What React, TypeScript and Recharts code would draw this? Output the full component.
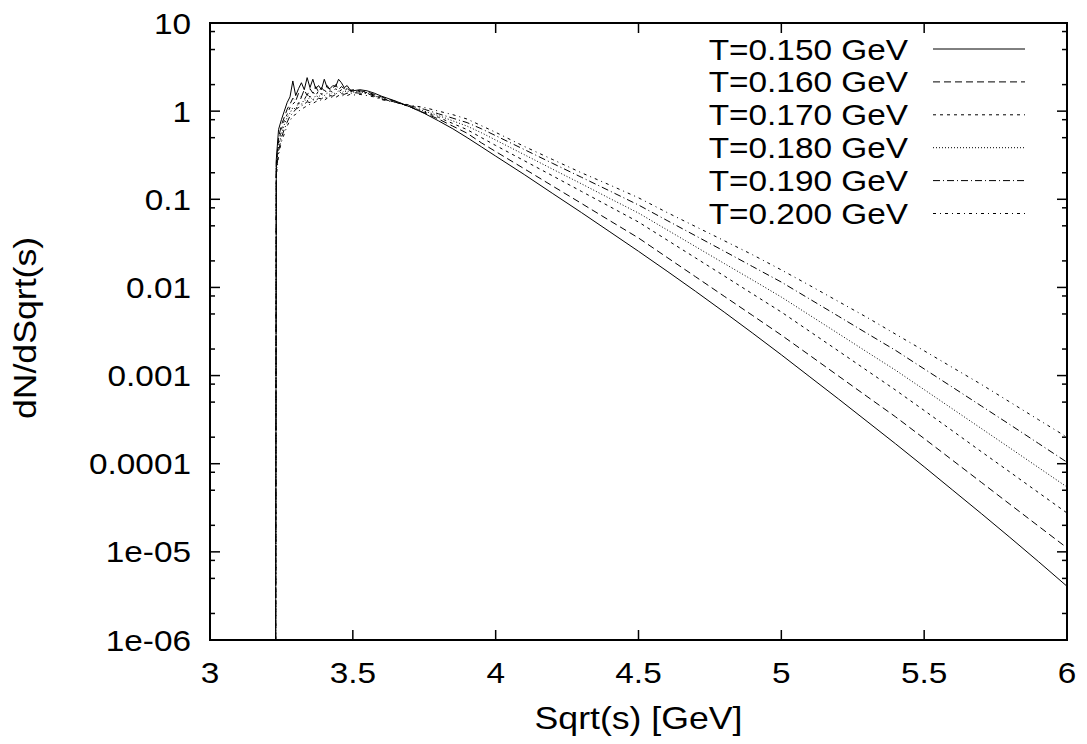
import React from "react";
import { LineChart, Line, XAxis, YAxis, Legend } from "recharts";

// sqrt(s) grid [GeV]
const sqrtS = [
  3.23, 3.232,
  3.24, 3.25, 3.26, 3.27, 3.28, 3.29, 3.3, 3.31, 3.32, 3.33, 3.34, 3.35, 3.36, 3.37,
  3.38, 3.39, 3.4, 3.41, 3.42, 3.43, 3.44, 3.45, 3.46, 3.47, 3.48, 3.49, 3.5,
  3.525, 3.55, 3.575, 3.6,
  3.65, 3.7, 3.75, 3.8, 3.85, 3.9, 3.95,
  4.0, 4.1, 4.2, 4.3, 4.4, 4.5, 4.6, 4.7, 4.8, 4.9, 5.0,
  5.1, 5.2, 5.3, 5.4, 5.5, 5.6, 5.7, 5.8, 5.9, 6.0,
];

// dN/dSqrt(s) for each temperature
const t150 = [
  1e-6, 0.28,
  0.62, 0.8, 1.0, 1.25, 1.45, 2.2, 1.5, 1.8, 2.1, 1.75, 2.4, 1.85, 2.3, 1.8,
  1.95, 1.75, 2.3, 1.85, 1.8, 1.95, 1.9, 2.3, 2.1, 1.85, 1.95, 1.75, 1.7,
  1.75, 1.7, 1.6, 1.48,
  1.3, 1.12, 0.944, 0.776, 0.631, 0.501, 0.394,
  0.309, 0.191, 0.116, 0.0708, 0.0427, 0.0257, 0.0153, 9.02e-3, 5.25e-3, 3.02e-3, 1.72e-3,
  9.66e-4, 5.43e-4, 3.02e-4, 1.68e-4, 9.23e-5, 5.01e-5, 2.72e-5, 1.46e-5, 7.76e-6, 4.07e-6,
];
const t160 = [
  1e-6, 0.26,
  0.5, 0.7, 0.85, 1.05, 1.2, 1.4, 1.3, 1.6, 1.45, 1.75, 1.5, 1.8, 1.6, 1.9,
  1.65, 1.85, 1.7, 1.95, 1.75, 1.8, 2.0, 1.75, 1.9, 1.8, 1.85, 1.7, 1.75,
  1.7, 1.65, 1.55, 1.45,
  1.29, 1.12, 0.955, 0.813, 0.676, 0.562, 0.437,
  0.348, 0.222, 0.141, 0.0899, 0.0571, 0.0364, 0.0219, 0.0132, 7.94e-3, 4.79e-3, 2.88e-3,
  1.69e-3, 9.89e-4, 5.79e-4, 3.4e-4, 1.93e-4, 1.09e-4, 6.15e-5, 3.47e-5, 1.96e-5, 1.11e-5,
];
const t170 = [
  1e-6, 0.24,
  0.45, 0.62, 0.78, 0.92, 1.1, 1.2, 1.3, 1.2, 1.45, 1.35, 1.55, 1.45, 1.65, 1.5,
  1.7, 1.55, 1.75, 1.6, 1.7, 1.65, 1.8, 1.65, 1.75, 1.7, 1.8, 1.65, 1.7,
  1.68, 1.62, 1.52, 1.41,
  1.26, 1.12, 0.977, 0.851, 0.724, 0.617, 0.501,
  0.408, 0.274, 0.184, 0.123, 0.0824, 0.0552, 0.0345, 0.0216, 0.0135, 8.41e-3, 5.26e-3,
  3.16e-3, 1.9e-3, 1.14e-3, 6.84e-4, 4.02e-4, 2.35e-4, 1.37e-4, 8.05e-5, 4.71e-5, 2.76e-5,
];
const t180 = [
  1e-6, 0.22,
  0.4, 0.55, 0.7, 0.85, 0.95, 1.1, 1.05, 1.25, 1.2, 1.35, 1.3, 1.45, 1.35, 1.5,
  1.45, 1.55, 1.5, 1.6, 1.55, 1.65, 1.55, 1.7, 1.6, 1.7, 1.65, 1.72, 1.65,
  1.66, 1.6, 1.5, 1.38,
  1.26, 1.12, 1.0, 0.891, 0.776, 0.676, 0.569,
  0.47, 0.321, 0.219, 0.15, 0.102, 0.0698, 0.045, 0.029, 0.0187, 0.0121, 7.78e-3,
  4.82e-3, 2.99e-3, 1.85e-3, 1.15e-3, 6.93e-4, 4.17e-4, 2.51e-4, 1.51e-4, 9.06e-5, 5.44e-5,
];
const t190 = [
  1e-6, 0.2,
  0.35, 0.5, 0.62, 0.75, 0.88, 0.95, 1.05, 1.1, 1.15, 1.2, 1.28, 1.25, 1.35, 1.32,
  1.4, 1.38, 1.45, 1.42, 1.5, 1.48, 1.55, 1.5, 1.58, 1.55, 1.6, 1.58, 1.62,
  1.6, 1.58, 1.48, 1.38,
  1.26, 1.15, 1.05, 0.933, 0.832, 0.741, 0.631,
  0.527, 0.367, 0.255, 0.178, 0.124, 0.0861, 0.0575, 0.0385, 0.0258, 0.0172, 0.0115,
  7.36e-3, 4.71e-3, 3.01e-3, 1.93e-3, 1.19e-3, 7.35e-4, 4.52e-4, 2.78e-4, 1.7e-4, 1.04e-4,
];
const t200 = [
  1e-6, 0.18,
  0.32, 0.45, 0.55, 0.68, 0.78, 0.88, 0.92, 1.0, 1.05, 1.1, 1.15, 1.2, 1.22, 1.28,
  1.3, 1.35, 1.33, 1.4, 1.42, 1.45, 1.43, 1.5, 1.48, 1.52, 1.5, 1.55, 1.52,
  1.55, 1.5, 1.45, 1.35,
  1.26, 1.17, 1.1, 1.0, 0.912, 0.813, 0.684,
  0.575, 0.398, 0.282, 0.2, 0.145, 0.104, 0.0708, 0.049, 0.0339, 0.0234, 0.0158,
  0.0105, 6.92e-3, 4.57e-3, 2.95e-3, 1.91e-3, 1.23e-3, 7.94e-4, 5.01e-4, 3.16e-4, 2.0e-4,
];

const seriesNames = ["T=0.150 GeV", "T=0.160 GeV", "T=0.170 GeV", "T=0.180 GeV", "T=0.190 GeV", "T=0.200 GeV"];

const xTicks = [3, 3.5, 4, 4.5, 5, 5.5, 6];
const xTickLabels = ["3", "3.5", "4", "4.5", "5", "5.5", "6"];
const yMajor = [1e-6, 1e-5, 1e-4, 1e-3, 0.01, 0.1, 1, 10];
const yTickLabels = ["1e-06", "1e-05", "0.0001", "0.001", "0.01", "0.1", "1", "10"];
const yMinorSteps = [2, 5, 8];

const series = [
  { key: "t150", name: seriesNames[0], values: t150, dash: undefined },
  { key: "t160", name: seriesNames[1], values: t160, dash: "7 4" },
  { key: "t170", name: seriesNames[2], values: t170, dash: "3 4" },
  { key: "t180", name: seriesNames[3], values: t180, dash: "1 2" },
  { key: "t190", name: seriesNames[4], values: t190, dash: "7 3 1 3" },
  { key: "t200", name: seriesNames[5], values: t200, dash: "3 4 1 4" },
];

const rows = sqrtS.map((x, i) => {
  const row: any = { x };
  series.forEach((s) => (row[s.key] = s.values[i]));
  return row;
});

const yTicks = [
  ...yMajor,
  ...yMajor.slice(0, -1).flatMap((d) => yMinorSteps.map((m) => d * m)),
].sort((a, b) => a - b);

// plot frame (px)
const W = 1087;
const H = 744;
const TOP = 23;
const RIGHT = 1067;
const LEFT = 210;
const BOTTOM = 640;

const FONT = "'Liberation Sans', Arial, Helvetica, sans-serif";
const FS = 29;
const SX = 1.15;

function SText({ x, y, anchor = "middle", rotate = 0, size = FS, children }: any) {
  return (
    <g transform={`translate(${x},${y}) rotate(${rotate}) scale(${SX},1)`}>
      <text x={0} y={0} textAnchor={anchor} fontFamily={FONT} fontSize={size} fill="#000">
        {children}
      </text>
    </g>
  );
}

// label under the bottom axis, plus the mirrored tick on the top border
function XTick({ x, y, payload }: any) {
  const i = xTicks.indexOf(payload.value);
  return (
    <g>
      <line x1={x} y1={TOP} x2={x} y2={TOP + 10} stroke="#000" strokeWidth={1.5} />
      <SText x={x} y={y + 43}>{xTickLabels[i]}</SText>
    </g>
  );
}

// left tick + mirrored tick on the right border
function YTick({ x, y, payload }: any) {
  const i = yMajor.indexOf(payload.value);
  const len = i >= 0 ? 10 : 5;
  return (
    <g>
      <line x1={x} y1={y} x2={x + len} y2={y} stroke="#000" strokeWidth={1.5} />
      <line x1={RIGHT} y1={y} x2={RIGHT - len} y2={y} stroke="#000" strokeWidth={1.5} />
      {i >= 0 && (
        <SText x={x - 19} y={y + 10.5} anchor="end">
          {yTickLabels[i]}
        </SText>
      )}
    </g>
  );
}

function LegendBox() {
  return (
    <svg width={W} height={H} style={{ position: "absolute", left: 0, top: 0 }}>
      <rect x={LEFT} y={TOP} width={RIGHT - LEFT} height={BOTTOM - TOP} fill="none" stroke="#000" strokeWidth={2} />
      {series.map((s, i) => {
        const cy = 49 + i * 32.9;
        return (
          <g key={s.key}>
            <SText x={908} y={cy + 10.5} anchor="end">
              {s.name}
            </SText>
            <line x1={933} x2={1025} y1={cy} y2={cy} stroke="#000" strokeWidth={1} strokeDasharray={s.dash} />
          </g>
        );
      })}
    </svg>
  );
}

const axisLine = { stroke: "#000", strokeWidth: 2 };

export default function App() {
  return (
    <div style={{ position: "absolute", left: 0, top: 0, width: W, height: H, background: "#fff" }}>
      <LineChart width={W} height={H} data={rows} margin={{ top: TOP, right: W - RIGHT, bottom: 0, left: 0 }}>
        <XAxis
          xAxisId="b"
          dataKey="x"
          type="number"
          domain={[3, 6]}
          allowDataOverflow
          ticks={xTicks}
          interval={0}
          height={H - BOTTOM}
          tickSize={-10}
          tickMargin={10}
          tickLine={{ stroke: "#000", strokeWidth: 1.5 }}
          axisLine={axisLine}
          tick={XTick}
          label={{ content: () => <SText x={638.5} y={729} size={31}>Sqrt(s) [GeV]</SText> }}
        />
        <YAxis
          yAxisId="l"
          scale="log"
          type="number"
          domain={[1e-6, 10]}
          allowDataOverflow
          ticks={yTicks}
          interval={0}
          width={LEFT}
          tickSize={0}
          tickMargin={0}
          tickLine={false}
          axisLine={axisLine}
          tick={YTick}
          label={{ content: () => <SText x={36} y={328} rotate={-90} size={31}>dN/dSqrt(s)</SText> }}
        />
        <Legend
          layout="vertical"
          align="center"
          verticalAlign="middle"
          wrapperStyle={{ position: "absolute", left: 0, top: 0, width: W, height: H, pointerEvents: "none" }}
          content={() => <LegendBox />}
        />
        {series.map((s) => (
          <Line
            key={s.key}
            xAxisId="b"
            yAxisId="l"
            type="linear"
            dataKey={s.key}
            name={s.name}
            stroke="#000"
            strokeWidth={1}
            strokeDasharray={s.dash}
            dot={false}
            activeDot={false}
            isAnimationActive={false}
          />
        ))}
      </LineChart>
    </div>
  );
}
